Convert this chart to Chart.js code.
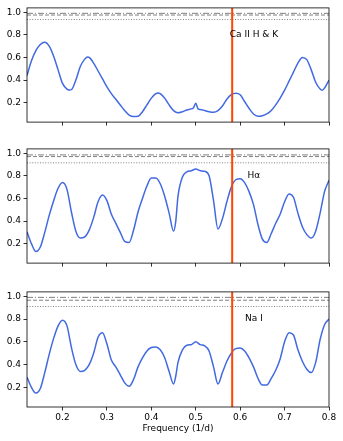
<!DOCTYPE html>
<html>
<head>
<meta charset="utf-8">
<script src="https://cdn.jsdelivr.net/npm/chart.js@4.4.1/dist/chart.umd.min.js"></script>
<style>
  body { margin: 0; background: #fff; }
  canvas { position: absolute; left: 0; }
</style>
</head>
<body>
<canvas id="caChart" width="343" height="130" style="top:0px"></canvas>
<canvas id="haChart" width="343" height="130" style="top:141px"></canvas>
<canvas id="naChart" width="343" height="157" style="top:284px"></canvas>
<script>
// axis ticks
const freqTicks = [0.2, 0.3, 0.4, 0.5, 0.6, 0.7, 0.8];
const powerTicks = [0.2, 0.4, 0.6, 0.8, 1.0];

// Ca II H & K periodogram
const caFreq = [0.12, 0.13, 0.14, 0.15, 0.16, 0.17, 0.18, 0.19, 0.20, 0.21, 0.215, 0.22, 0.23, 0.24, 0.25, 0.257,
  0.26, 0.27, 0.28, 0.29, 0.30, 0.31, 0.32, 0.33, 0.34, 0.35, 0.36, 0.37, 0.38, 0.39, 0.40, 0.41, 0.415,
  0.42, 0.43, 0.44, 0.45, 0.46, 0.47, 0.48, 0.49, 0.495, 0.50, 0.505,
  0.51, 0.52, 0.53, 0.54, 0.55, 0.56, 0.57, 0.58, 0.59, 0.60, 0.61, 0.62, 0.63, 0.64, 0.65, 0.66, 0.67, 0.68,
  0.69, 0.70, 0.71, 0.72, 0.73, 0.74, 0.75, 0.76, 0.77, 0.78, 0.785, 0.79, 0.80];
const caPower = [0.44, 0.57, 0.66, 0.715, 0.735, 0.70, 0.61, 0.49, 0.37, 0.32, 0.313, 0.315, 0.40, 0.52, 0.585, 0.604,
  0.60, 0.55, 0.48, 0.41, 0.34, 0.28, 0.23, 0.18, 0.13, 0.09, 0.077, 0.08, 0.12, 0.18, 0.24, 0.28, 0.286,
  0.28, 0.24, 0.18, 0.13, 0.11, 0.12, 0.135, 0.145, 0.155, 0.195, 0.145,
  0.14, 0.13, 0.12, 0.115, 0.13, 0.17, 0.23, 0.27, 0.283, 0.27, 0.21, 0.15, 0.10, 0.08, 0.085, 0.10, 0.13, 0.18,
  0.24, 0.31, 0.39, 0.47, 0.55, 0.60, 0.58, 0.49, 0.38, 0.32, 0.31, 0.33, 0.40];

// H-alpha and Na I share the same frequency grid
const lineFreq = [0.12, 0.13, 0.14, 0.15, 0.16, 0.17, 0.18, 0.19, 0.20, 0.21, 0.22, 0.23, 0.24, 0.25, 0.26, 0.27,
  0.28, 0.29, 0.30, 0.31, 0.32, 0.33, 0.34, 0.35, 0.36, 0.37, 0.38, 0.39, 0.40, 0.41, 0.42, 0.43, 0.44, 0.45, 0.455,
  0.46, 0.47, 0.48, 0.49, 0.50, 0.51, 0.52, 0.53, 0.54, 0.55, 0.56, 0.57, 0.58, 0.59, 0.60, 0.61, 0.62, 0.63,
  0.64, 0.65, 0.66, 0.67, 0.68, 0.69, 0.70, 0.71, 0.72, 0.73, 0.74, 0.75, 0.76, 0.77, 0.78, 0.79, 0.80];
const haPower = [0.305, 0.20, 0.13, 0.17, 0.30, 0.45, 0.58, 0.69, 0.74, 0.68, 0.48, 0.31, 0.25, 0.26, 0.32, 0.43,
  0.57, 0.63, 0.58, 0.46, 0.38, 0.30, 0.22, 0.21, 0.32, 0.48, 0.60, 0.71, 0.78, 0.78, 0.73, 0.62, 0.47, 0.31, 0.40,
  0.62, 0.79, 0.835, 0.845, 0.86, 0.845, 0.84, 0.80, 0.58, 0.33, 0.42, 0.57, 0.70, 0.765, 0.775, 0.74, 0.66, 0.545,
  0.37, 0.24, 0.21, 0.29, 0.38, 0.46, 0.57, 0.64, 0.61, 0.47, 0.35, 0.28, 0.25, 0.31, 0.47, 0.66, 0.76];
const naPower = [0.29, 0.20, 0.15, 0.19, 0.33, 0.49, 0.63, 0.74, 0.79, 0.74, 0.55, 0.40, 0.34, 0.35, 0.40, 0.50,
  0.64, 0.68, 0.58, 0.44, 0.38, 0.31, 0.24, 0.21, 0.27, 0.38, 0.46, 0.52, 0.55, 0.555, 0.53, 0.46, 0.34, 0.23, 0.30,
  0.42, 0.53, 0.57, 0.575, 0.60, 0.575, 0.565, 0.52, 0.38, 0.23, 0.33, 0.43, 0.50, 0.54, 0.545, 0.52, 0.46, 0.38,
  0.28, 0.22, 0.22, 0.28, 0.35, 0.45, 0.60, 0.68, 0.66, 0.53, 0.43, 0.36, 0.33, 0.42, 0.62, 0.75, 0.80];

// false alarm levels (dash-dot, dashed, dotted)
const caLevels = [0.99, 0.975, 0.935];
const haLevels = [0.985, 0.97, 0.915];
const naLevels = [0.99, 0.965, 0.91];

const markFreq = 0.582;   // orange marker
const labelFreq = 0.631;
const labelPower = 0.80;

Chart.defaults.font.family = 'DejaVu Sans';
Chart.defaults.font.size = 9;
Chart.defaults.color = '#000';

const levelDash = [[6, 2, 1, 2], [4, 2], [1, 1.6]];

function toPoints(xs, ys) {
    return xs.map((x, i) => ({ x: x, y: ys[i] }));
}

function makePanel(id, freq, power, levels, name, isBottom) {
    const ctx = document.getElementById(id).getContext('2d');
    const top = id === 'haChart' ? 6.5 : 6;

    const datasets = [
        { data: [{ x: markFreq, y: -1 }, { x: markFreq, y: 2 }], borderColor: 'orangered', borderWidth: 2, clip: 0, order: 0 },
        { data: toPoints(freq, power), borderColor: 'royalblue', borderWidth: 1.5, cubicInterpolationMode: 'monotone', order: 1 }
    ];
    levels.forEach((lv, i) => {
        datasets.push({ data: [{ x: 0.12, y: lv }, { x: 0.8, y: lv }], borderColor: 'gray', borderWidth: 1, borderDash: levelDash[i], order: 2 });
    });

    // frame + line name
    const panelDecor = {
        id: 'panelDecor',
        afterDatasetsDraw(chart) {
            const c = chart.ctx;
            const a = chart.chartArea;
            c.save();
            c.strokeStyle = '#000';
            c.lineWidth = 0.8;
            c.strokeRect(a.left, a.top, a.right - a.left, a.bottom - a.top);
            c.fillStyle = '#000';
            c.font = '9px "DejaVu Sans"';
            c.textAlign = 'center';
            c.textBaseline = 'middle';
            c.fillText(name, chart.scales.x.getPixelForValue(labelFreq), chart.scales.y.getPixelForValue(labelPower));
            c.restore();
        }
    };

    return new Chart(ctx, {
        type: 'line',
        data: { datasets: datasets },
        options: {
            responsive: false,
            devicePixelRatio: 1,
            animation: false,
            layout: { padding: { top: top, right: 14, left: 0, bottom: 0 } },
            elements: { point: { radius: 0 } },
            plugins: { legend: { display: false }, tooltip: { enabled: false } },
            scales: {
                x: {
                    type: 'linear',
                    min: 0.12,
                    max: 0.8,
                    afterBuildTicks: s => { s.ticks = freqTicks.map(v => ({ value: v })); },
                    afterFit: s => { s.height = isBottom ? 34 : 6; },
                    border: { display: false },
                    grid: { drawOnChartArea: false, tickLength: 3.5, color: '#000', lineWidth: 0.8 },
                    ticks: {
                        padding: 2,
                        maxRotation: 0,
                        callback: v => isBottom ? v.toFixed(1) : ''
                    },
                    title: {
                        display: isBottom,
                        text: 'Frequency (1/d)',
                        padding: { top: 0, bottom: 6.6 }
                    }
                },
                y: {
                    min: 0.028,
                    max: 1.038,
                    afterBuildTicks: s => { s.ticks = powerTicks.map(v => ({ value: v })); },
                    afterFit: s => { s.width = 27; },
                    border: { display: false },
                    grid: { drawOnChartArea: false, tickLength: 3.5, color: '#000', lineWidth: 0.8 },
                    ticks: { padding: 2.5, callback: v => v.toFixed(1) }
                }
            }
        },
        plugins: [panelDecor]
    });
}

makePanel('caChart', caFreq, caPower, caLevels, 'Ca II H & K', false);
makePanel('haChart', lineFreq, haPower, haLevels, 'Hα', false);
makePanel('naChart', lineFreq, naPower, naLevels, 'Na I', true);
</script>
</body>
</html>
